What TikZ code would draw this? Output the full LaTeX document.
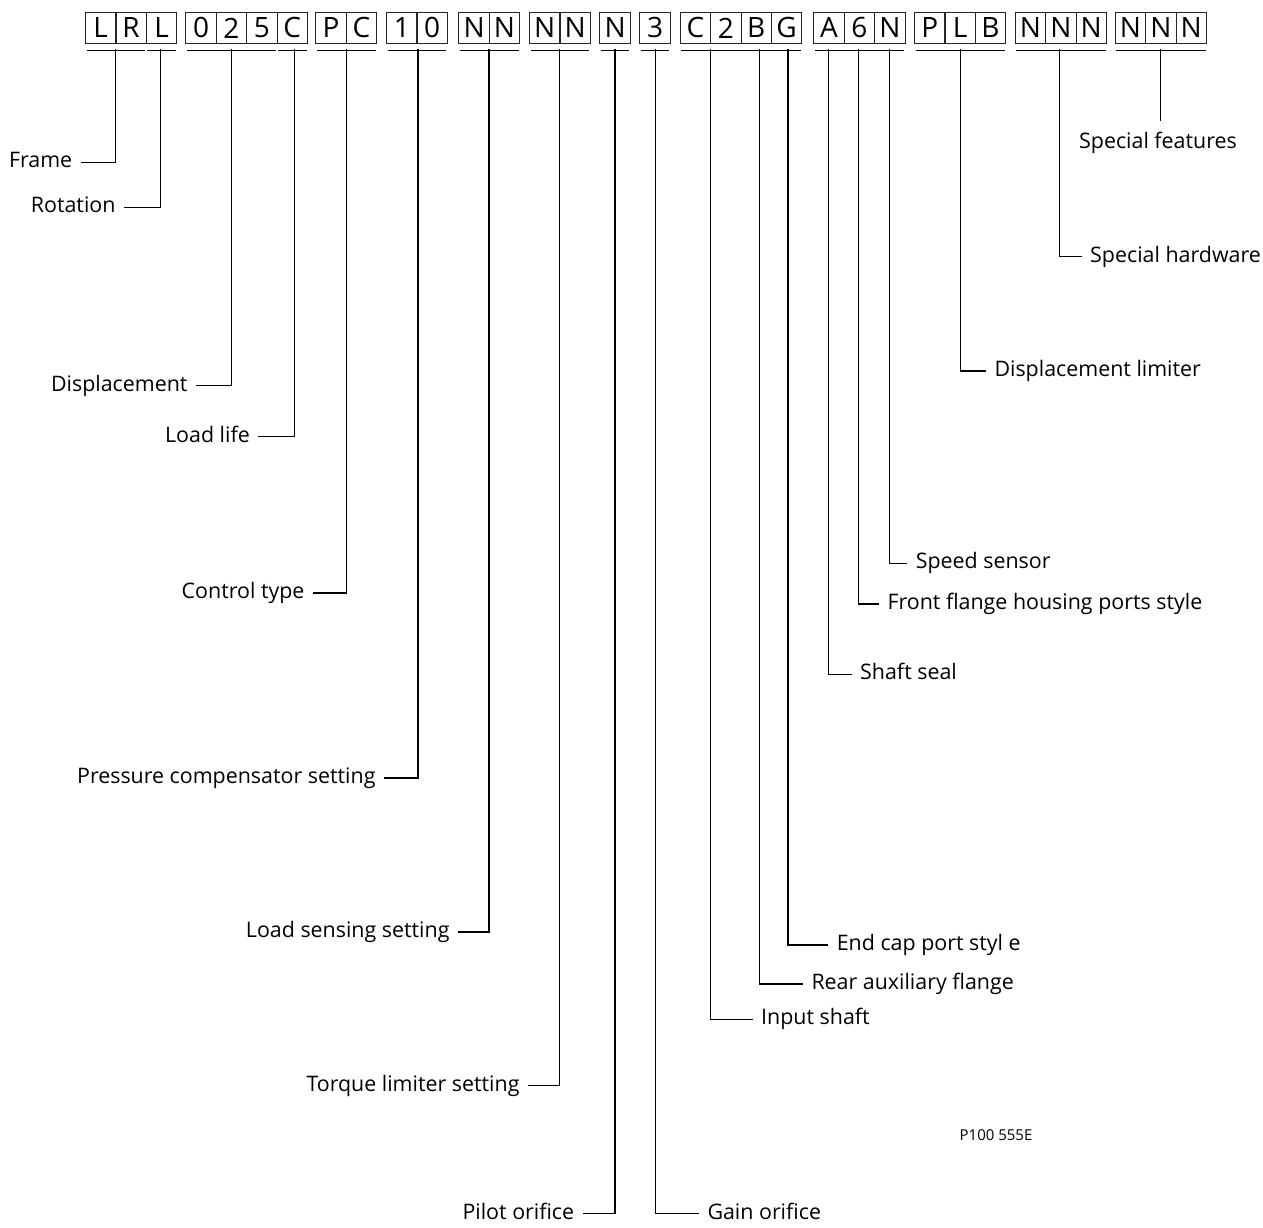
\documentclass[tikz,border=0pt]{standalone}
\usepackage{fontspec}
\setmainfont{Open Sans}
\begin{document}
\begin{tikzpicture}[x=1pt,y=1pt,
  cell/.style={draw=black!85, line width=1.1pt, minimum width=30.4pt, minimum height=30.7pt, inner sep=0pt, anchor=north west, font=\fontsize{28}{32}\selectfont},
  conn/.style={line width=1.1pt},
  lbl/.style={inner sep=0pt, outer xsep=8.5pt, text height=16pt, text depth=5.4pt, font=\fontsize{21.4}{25}\selectfont},
  lleft/.style={lbl, anchor=east},
  lright/.style={lbl, anchor=west}]
\useasboundingbox (0,0) rectangle (1263,-1227);
% code cells
\foreach \x/\t/\n in {85/L/1, 115.4/R/2, 145.8/L/3,
  185.3/0/4, 215.7/2/5, 246.1/5/6, 276.5/C/7,
  315.3/P/8, 345.7/C/9,
  386/1/10, 416.4/0/11,
  458.3/N/12, 488.7/N/13,
  529/N/14, 559.4/N/15,
  599.3/N/16,
  639.3/3/17,
  679.7/C/18, 710.1/2/19, 740.5/B/20, 770.9/G/21,
  813.3/A/22, 843.7/6/23, 874.1/N/24,
  914/P/25, 944.4/L/26, 974.8/B/27,
  1014.7/N/28, 1045.1/N/29, 1075.5/N/30,
  1114.7/N/31, 1145.1/N/32, 1175.5/N/33}
  \node[cell] (c\n) at (\x,-12) {\t};
% underlines
\foreach \a/\b in {1/2, 3/3, 4/6, 7/7, 8/9, 10/11, 12/13, 14/15, 16/16, 17/17, 18/21, 22/24, 25/27, 28/30, 31/33}
  \draw[conn] ([xshift=1.5pt,yshift=-6.6pt]c\a.south west) -- ([xshift=-1.5pt,yshift=-6.6pt]c\b.south east);
% top ends of the leaders
\coordinate (tFrame) at (115.7,-49.3);
\coordinate (tRot) at (160.7,-49.3);
\coordinate (tDisp) at (231.7,-49.3);
\coordinate (tLife) at (294.3,-49.3);
\coordinate (tCtrl) at (346.7,-49.3);
\coordinate (tPcs) at (418,-49.3);
\coordinate (tLss) at (489,-49.3);
\coordinate (tTls) at (559.7,-49.3);
\coordinate (tPil) at (615,-49.3);
\coordinate (tGain) at (655.7,-49.3);
\coordinate (tIn) at (710.7,-49.3);
\coordinate (tRear) at (759.3,-49.3);
\coordinate (tEnd) at (788,-49.3);
\coordinate (tSeal) at (828.5,-49.3);
\coordinate (tFront) at (858.3,-49.3);
\coordinate (tSpeed) at (889.2,-49.3);
\coordinate (tDl) at (960.7,-49.3);
\coordinate (tSh) at (1059.2,-49.3);
\coordinate (tSf) at (1160.7,-49.3);
\coordinate (sfEnd) at (1160.7,-120.7);
% left labels
\node[lleft] (frame) at (80.7,-162.3) {Frame};
\node[lleft] (rot) at (124,-207.3) {Rotation};
\node[lleft] (disp) at (196,-385.7) {Displacement};
\node[lleft] (life) at (258.3,-436.7) {Load life};
\node[lleft] (ctrl) at (313,-593) {Control type};
\node[lleft] (pcs) at (384,-778) {Pressure compensator setting};
\node[lleft] (lss) at (458,-932) {Load sensing setting};
\node[lleft] (tls) at (528,-1085.7) {Torque limiter setting};
\node[lleft] (pil) at (582.7,-1213.7) {Pilot orifice};
% right labels
\node[lright] (gain) at (699,-1213.7) {Gain orifice};
\node[lright] (inp) at (752.7,-1019.3) {Input shaft};
\node[lright] (rear) at (803,-984) {Rear auxiliary flange};
\node[lright] (endc) at (828.3,-945) {End cap port styl e};
\node[lright] (seal) at (851.7,-674.3) {Shaft seal};
\node[lright] (front) at (879,-604) {Front flange housing ports style};
\node[lright] (speed) at (907.3,-563.3) {Speed sensor};
\node[lright] (dl) at (986,-371) {Displacement limiter};
\node[lright] (sh) at (1081.7,-256.7) {Special hardware};
\node[font=\fontsize{21.4}{25}\selectfont, inner sep=0pt, anchor=base] (sf) at (1158,-148) {Special features};
\node[font=\fontsize{15}{17}\selectfont, inner sep=0pt] (ref) at (996,-1135) {P100 555E};
% leaders
\foreach \t/\l in {tFrame/frame, tRot/rot, tDisp/disp, tLife/life, tCtrl/ctrl, tPcs/pcs, tLss/lss, tTls/tls, tPil/pil}
  \draw[conn] (\t) |- (\l.east);
\foreach \t/\l in {tGain/gain, tIn/inp, tRear/rear, tEnd/endc, tSeal/seal, tFront/front, tSpeed/speed, tDl/dl, tSh/sh}
  \draw[conn] (\t) |- (\l.west);
\draw[conn] (tSf) -- (sfEnd);
\end{tikzpicture}
\end{document}
